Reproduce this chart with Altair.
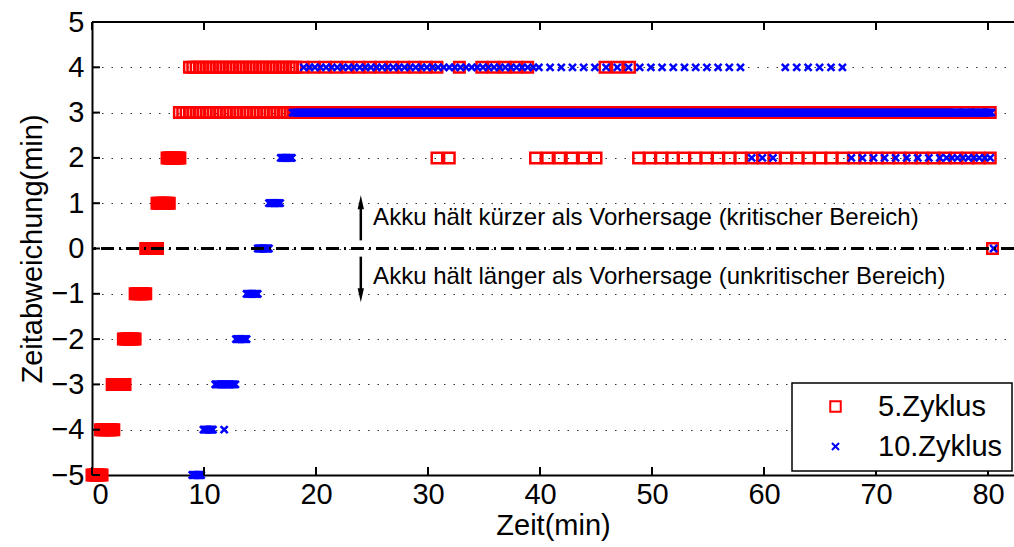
import altair as alt
import numpy as np
import pandas as pd

SERIES = ["5.Zyklus", "10.Zyklus"]
COLORS = ["#ff0000", "#0000ff"]

# runs of markers: (deviation, first t, last t, approx. spacing in min)
RED_RUNS = [
    (-5, 0.0, 0.9, 0.15),
    (-4, 0.75, 1.95, 0.15),
    (-3, 1.8, 2.95, 0.15),
    (-2, 2.8, 3.85, 0.15),
    (-1, 3.85, 4.8, 0.15),
    (0, 4.8, 5.85, 0.15),
    (1, 5.8, 6.9, 0.15),
    (2, 6.7, 7.85, 0.15),
    (3, 7.8, 18.0, 0.3),
    (3, 18.0, 76.3, 0.2),
    (3, 77.1, 80.2, 1.03),
    (4, 8.7, 18.2, 0.3),
    (4, 18.8, 30.8, 1.0),
    (4, 34.8, 38.9, 1.02),
    (4, 45.8, 48.0, 1.1),
    (2, 30.8, 31.9, 1.1),
    (2, 39.6, 45.0, 1.08),
    (2, 48.8, 80.2, 1.0),
]
RED_SINGLE_T = [32.8, 80.4]
RED_SINGLE_DEV = [4, 0]

BLUE_RUNS = [
    (-5, 8.95, 9.75, 0.1),
    (-4, 9.95, 10.8, 0.1),
    (-3, 11.0, 12.8, 0.1),
    (-2, 12.85, 13.8, 0.1),
    (-1, 13.8, 14.8, 0.1),
    (0, 14.8, 15.8, 0.1),
    (1, 15.8, 16.8, 0.1),
    (2, 16.85, 17.85, 0.1),
    (3, 17.9, 80.3, 0.1),
    (4, 18.9, 39.4, 0.5),
    (4, 39.9, 57.9, 1.0),
    (4, 61.9, 67.0, 1.02),
    (2, 58.9, 60.8, 0.95),
    (2, 67.8, 75.7, 0.99),
    (2, 76.3, 80.2, 0.5),
]
BLUE_SINGLE_T = [11.8, 80.5]
BLUE_SINGLE_DEV = [-4, 0]

X_TICKS = [0, 10, 20, 30, 40, 50, 60, 70, 80]
Y_TICKS = [-5, -4, -3, -2, -1, 0, 1, 2, 3, 4, 5]

TEXT_UP = "Akku hält kürzer als Vorhersage (kritischer Bereich)"
TEXT_DOWN = "Akku hält länger als Vorhersage (unkritischer Bereich)"

FONT = "Liberation Sans"
FS = 29
W, H = 922, 453
XMAX = 82.32


def expand(runs, single_t, single_dev, name):
    rows = []
    for dev, a, b, s in runs:
        n = int(round((b - a) / s)) + 1
        for t in np.linspace(a, b, n):
            rows.append({"t": float(t), "dev": dev, "series": name})
    for t, d in zip(single_t, single_dev):
        rows.append({"t": t, "dev": d, "series": name})
    return rows


pts = pd.DataFrame(
    expand(RED_RUNS, RED_SINGLE_T, RED_SINGLE_DEV, SERIES[0])
    + expand(BLUE_RUNS, BLUE_SINGLE_T, BLUE_SINGLE_DEV, SERIES[1])
)

xscale = alt.Scale(domain=[0, XMAX], nice=False, zero=False)
yscale = alt.Scale(domain=[-5, 5], nice=False)

leg = alt.Legend(
    title=None, orient="none", legendX=700, legendY=361,
    labelFontSize=FS, labelFont=FONT, labelColor="black",
    padding=9, rowPadding=10, symbolOffset=20, labelOffset=28,
    symbolStrokeWidth=2, labelLimit=400,
)

points = alt.Chart(pts).mark_point(filled=False, strokeWidth=2.5, opacity=1).encode(
    x=alt.X("t:Q", scale=xscale, axis=alt.Axis(
        values=X_TICKS, title="Zeit(min)", grid=False, ticks=False,
        domain=True, domainColor="black", domainWidth=2,
        labelFontSize=FS, labelFont=FONT, labelColor="black", labelPadding=5,
        titleFontSize=FS, titleFont=FONT, titleFontWeight="normal", titleColor="black",
        titlePadding=2)),
    y=alt.Y("dev:Q", scale=yscale, axis=alt.Axis(
        values=Y_TICKS, title="Zeitabweichung(min)", grid=True,
        gridDash=[1.5, 8], gridColor="#333333", gridWidth=1.2, ticks=False,
        domain=True, domainColor="black", domainWidth=2,
        labelFontSize=FS, labelFont=FONT, labelColor="black", labelPadding=8,
        titleFontSize=FS, titleFont=FONT, titleFontWeight="normal", titleColor="black",
        titlePadding=3)),
    color=alt.Color("series:N", scale=alt.Scale(domain=SERIES, range=COLORS), legend=leg),
    shape=alt.Shape("series:N", scale=alt.Scale(domain=SERIES, range=["square", "M-1,-1L1,1M1,-1L-1,1"]), legend=leg),
    size=alt.Size("series:N", scale=alt.Scale(domain=SERIES, range=[110, 50]), legend=leg),
)

zero_line = alt.Chart().mark_rule(color="black", strokeWidth=3, strokeDash=[13, 5, 2, 5]).encode(
    y=alt.datum(0)
)

arrow_up = alt.Chart().mark_rule(color="black", strokeWidth=2.5).encode(
    x=alt.datum(24.0), y=alt.datum(0.18), y2=alt.datum(1.0)
)
arrow_down = alt.Chart().mark_rule(color="black", strokeWidth=2.5).encode(
    x=alt.datum(24.0), y=alt.datum(-0.18), y2=alt.datum(-1.0)
)
head_up = alt.Chart().mark_point(shape="M0,-1L0.45,1L-0.45,1Z", filled=True, color="black", size=196, opacity=1).encode(
    x=alt.datum(24.0), y=alt.datum(1.02)
)
head_down = alt.Chart().mark_point(shape="M0,1L0.45,-1L-0.45,-1Z", filled=True, color="black", size=196, opacity=1).encode(
    x=alt.datum(24.0), y=alt.datum(-1.03)
)
text_up = alt.Chart().mark_text(align="left", baseline="middle", fontSize=24, font=FONT, color="black").encode(
    x=alt.datum(25.1), y=alt.datum(0.68), text=alt.value(TEXT_UP)
)
text_down = alt.Chart().mark_text(align="left", baseline="middle", fontSize=24, font=FONT, color="black").encode(
    x=alt.datum(25.1), y=alt.datum(-0.62), text=alt.value(TEXT_DOWN)
)

top_frame = alt.Chart().mark_rule(color="black", strokeWidth=2).encode(y=alt.datum(5))

xt = pd.DataFrame({"t": X_TICKS})
yt = pd.DataFrame({"dev": Y_TICKS})
ticks_bottom = alt.Chart(xt).mark_rule(color="black", strokeWidth=2).encode(
    x="t:Q", y=alt.value(H), y2=alt.value(H - 8)
)
ticks_top = alt.Chart(xt).mark_rule(color="black", strokeWidth=2).encode(
    x="t:Q", y=alt.value(0), y2=alt.value(8)
)
ticks_left = alt.Chart(yt).mark_rule(color="black", strokeWidth=2).encode(
    y="dev:Q", x=alt.value(0), x2=alt.value(8)
)

chart = alt.layer(
    points, zero_line, arrow_up, arrow_down, head_up, head_down,
    text_up, text_down, top_frame, ticks_bottom, ticks_top, ticks_left,
).properties(
    width=W, height=H,
    padding={"left": 92, "top": 22, "right": 0, "bottom": 72},
    autosize=alt.AutoSizeParams(type="none"),
    background="white",
).configure_view(stroke=None).configure_legend(
    strokeColor="black", strokeWidth=1.5, fillColor="white"
)

chart.save("out.html", embed_options={"renderer": "svg", "actions": False})
